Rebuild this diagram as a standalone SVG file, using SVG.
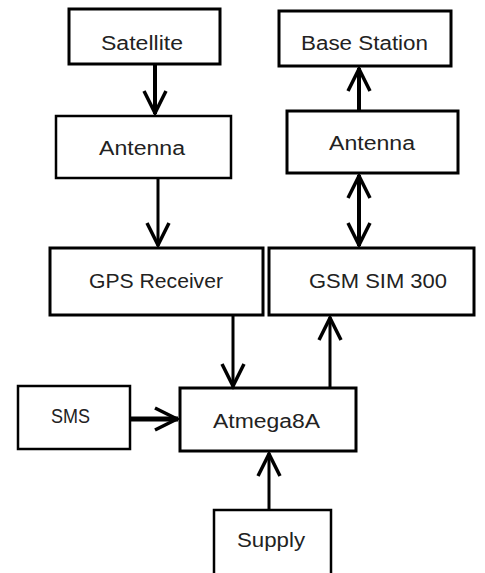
<svg xmlns="http://www.w3.org/2000/svg" width="485" height="573" viewBox="0 0 485 573">
<defs>
<style>
.box{fill:#fff;stroke:#000;stroke-width:2.5}
.t{font-family:"Liberation Sans",Arial,sans-serif;font-size:20px;fill:#222;text-anchor:start}
.c{fill:none;stroke:#000;stroke-width:3}
</style>
<marker id="ah" markerUnits="userSpaceOnUse" markerWidth="32" markerHeight="30" viewBox="-28 -15 32 30" refX="0" refY="0" orient="auto-start-reverse">
<path d="M-23,-11 L-1,0 L-23,11" fill="none" stroke="#000" stroke-width="3.5"/>
</marker>
</defs>
<rect width="485" height="573" fill="#fff"/>
<g id="satellite"><rect class="box" x="69" y="9" width="151" height="55" style="stroke-width:3"/><text class="t" x="101" y="50" textLength="82" lengthAdjust="spacingAndGlyphs">Satellite</text></g>
<g id="base-station"><rect class="box" x="279" y="11" width="172" height="55" style="stroke-width:3"/><text class="t" x="301" y="50" textLength="127" lengthAdjust="spacingAndGlyphs">Base Station</text></g>
<g id="antenna-left"><rect class="box" x="56" y="116" width="175" height="62"/><text class="t" x="99" y="155" textLength="86" lengthAdjust="spacingAndGlyphs">Antenna</text></g>
<g id="antenna-right"><rect class="box" x="287" y="111" width="171" height="62" style="stroke-width:3"/><text class="t" x="329" y="150" textLength="86" lengthAdjust="spacingAndGlyphs">Antenna</text></g>
<g id="gps"><rect class="box" x="50" y="248" width="213" height="67" style="stroke-width:3"/><text class="t" x="89" y="288" textLength="134" lengthAdjust="spacingAndGlyphs">GPS Receiver</text></g>
<g id="gsm"><rect class="box" x="269" y="248" width="205" height="67" style="stroke-width:3"/><text class="t" x="309" y="288" textLength="138" lengthAdjust="spacingAndGlyphs">GSM SIM 300</text></g>
<g id="sms"><rect class="box" x="18" y="386" width="112" height="63"/><text class="t" x="51" y="423" textLength="39" lengthAdjust="spacingAndGlyphs">SMS</text></g>
<g id="atmega"><rect class="box" x="180" y="388" width="176" height="63" style="stroke-width:3"/><text class="t" x="213" y="428" textLength="107" lengthAdjust="spacingAndGlyphs">Atmega8A</text></g>
<g id="supply"><rect class="box" x="214" y="510" width="117" height="70"/><text class="t" x="237" y="547" textLength="68" lengthAdjust="spacingAndGlyphs">Supply</text></g>
<g id="connectors">
<line class="c" x1="155" y1="65" x2="155" y2="114" style="stroke-width:4" marker-end="url(#ah)"/>
<line class="c" x1="359" y1="110" x2="359" y2="68" style="stroke-width:4" marker-end="url(#ah)"/>
<line class="c" x1="158" y1="178" x2="158" y2="246" marker-end="url(#ah)"/>
<line class="c" x1="359" y1="175" x2="359" y2="246" style="stroke-width:4" marker-start="url(#ah)" marker-end="url(#ah)"/>
<line class="c" x1="233" y1="316" x2="233" y2="387" marker-end="url(#ah)"/>
<line class="c" x1="330" y1="387" x2="330" y2="317" marker-end="url(#ah)"/>
<line class="c" x1="131" y1="419" x2="178" y2="419" style="stroke-width:5" marker-end="url(#ah)"/>
<line class="c" x1="269" y1="509" x2="269" y2="453" marker-end="url(#ah)"/>
</g>
</svg>
